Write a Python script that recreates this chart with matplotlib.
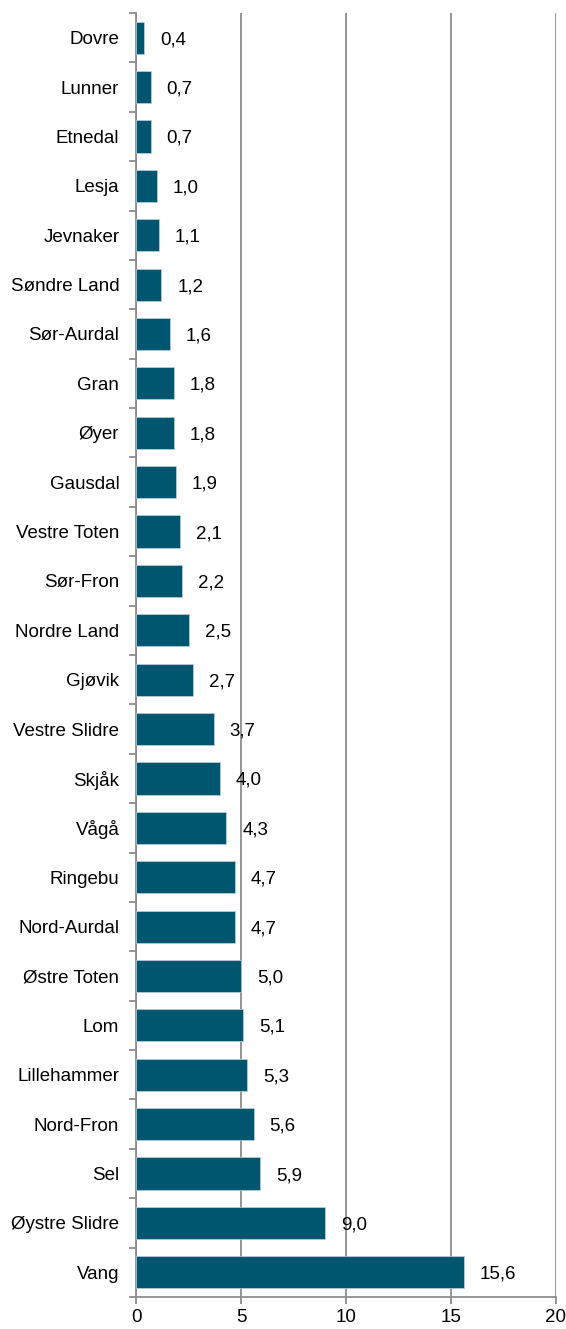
import matplotlib
matplotlib.use('Agg')
import matplotlib.pyplot as plt
import numpy as np

# --- DATA ---
kommuner = ['Dovre', 'Lunner', 'Etnedal', 'Lesja', 'Jevnaker', 'Søndre Land',
            'Sør-Aurdal', 'Gran', 'Øyer', 'Gausdal', 'Vestre Toten', 'Sør-Fron',
            'Nordre Land', 'Gjøvik', 'Vestre Slidre', 'Skjåk', 'Vågå', 'Ringebu',
            'Nord-Aurdal', 'Østre Toten', 'Lom', 'Lillehammer', 'Nord-Fron', 'Sel',
            'Øystre Slidre', 'Vang']
verdier = [0.4, 0.7, 0.7, 1.0, 1.1, 1.2, 1.6, 1.8, 1.8, 1.9, 2.1, 2.2, 2.5, 2.7,
           3.7, 4.0, 4.3, 4.7, 4.7, 5.0, 5.1, 5.3, 5.6, 5.9, 9.0, 15.6]
x_ticks = [0, 5, 10, 15, 20]

# --- STYLE ---
BAR_COLOR = '#00566E'
GRID_COLOR = '#8C8C8C'
plt.rcParams['font.family'] = ['Liberation Sans', 'DejaVu Sans']
FS = 13.5

fig = plt.figure(figsize=(5.66, 13.29), dpi=100)
ax = fig.add_axes([136 / 566, 1 - 1297 / 1329, (556 - 136) / 566, (1297 - 13) / 1329])

y = np.arange(len(kommuner))
ax.barh(y, verdier, height=0.65, color=BAR_COLOR, edgecolor='#BFD3DA',
        linewidth=0.5, zorder=3)

for yi, v in zip(y, verdier):
    ax.annotate(f'{v:.1f}'.replace('.', ','), xy=(v, yi), xytext=(16, 0),
                textcoords='offset pixels', ha='left', va='center_baseline',
                fontsize=FS, color='black', zorder=4)

ax.set_xlim(0, 20)
ax.set_ylim(len(kommuner) - 0.5, -0.5)
ax.set_xticks(x_ticks)
ax.set_xticklabels([str(t) for t in x_ticks], fontsize=FS)

# category labels, ticks at boundaries
ax.set_yticks(y)
ax.set_yticklabels(kommuner, fontsize=FS, va='center_baseline')
ax.tick_params(axis='y', which='major', length=0, pad=12)
ax.set_yticks(np.arange(-0.5, len(kommuner), 1.0), minor=True)
ax.tick_params(axis='y', which='minor', length=5, width=1.3, color=GRID_COLOR)
ax.tick_params(axis='x', length=5, width=1.3, color=GRID_COLOR, pad=4)

ax.grid(axis='x', color=GRID_COLOR, linewidth=1.3, zorder=0)
ax.set_axisbelow(True)
for side in ['top', 'right']:
    ax.spines[side].set_visible(False)
for side in ['left', 'bottom']:
    ax.spines[side].set_color(GRID_COLOR)
    ax.spines[side].set_linewidth(1.3)

fig.savefig('out.png', dpi=100, facecolor='white')
plt.close(fig)
